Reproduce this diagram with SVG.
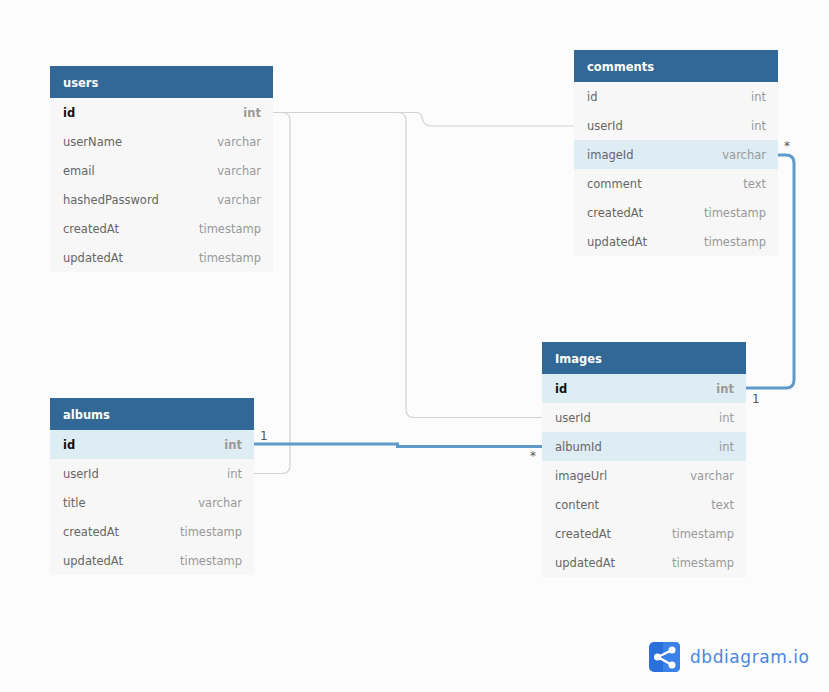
<svg xmlns="http://www.w3.org/2000/svg" width="829" height="692" viewBox="0 0 829 692">
<style>
.bg{fill:#fcfcfc}
.hd{fill:#316896}
.body{fill:#f7f7f7}
.sel{fill:#deecf4}
text{font-family:"DejaVu Sans",Verdana,sans-serif;font-size:11.5px}
.t{fill:#fff;font-weight:700}
.f{fill:#666}
.y{fill:#999;text-anchor:end}
.pk{fill:#111;font-weight:700}
.py{fill:#999;font-weight:700;text-anchor:end}
.thin{fill:none;stroke:#d2d2d2;stroke-width:1.2}
.thick{fill:none;stroke:#6099cb;stroke-width:3}
.card{fill:#555;font-size:12px}
</style>
<rect class="bg" width="829" height="692"/>
<g id="connectors">
<path class="thin" d="M273 112.500H282Q290 112.500 290 120.500V465Q290 473.500 282 473.500H254"/>
<path class="thin" d="M273 112.500H398Q406 112.500 406 120.500V409Q406 417.500 414 417.500H542"/>
<path class="thin" d="M273 112.500H416Q421 112.500 422 117Q423 126 431 126H574"/>
<path class="thick" d="M254 444H397.500V446.500H542"/>
<path class="thick" d="M746 388H786Q794 388 794 380V163Q794 155 786 155H778"/>
<text class="card" x="260" y="440">1</text>
<text class="card" x="530" y="460">*</text>
<text class="card" x="784" y="150">*</text>
<text class="card" x="752" y="403">1</text>
</g>
<g id="users">
<rect class="body" x="50" y="98" width="223" height="174"/>
<rect class="hd" x="50" y="66" width="223" height="32"/>
<text class="t" x="63" y="87">users</text>
<text class="pk" x="63" y="117">id</text><text class="py" x="261" y="117">int</text>
<text class="f" x="63" y="146">userName</text><text class="y" x="261" y="146">varchar</text>
<text class="f" x="63" y="175">email</text><text class="y" x="261" y="175">varchar</text>
<text class="f" x="63" y="204">hashedPassword</text><text class="y" x="261" y="204">varchar</text>
<text class="f" x="63" y="233">createdAt</text><text class="y" x="261" y="233">timestamp</text>
<text class="f" x="63" y="262">updatedAt</text><text class="y" x="261" y="262">timestamp</text>
</g>
<g id="comments">
<rect class="body" x="574" y="82" width="204" height="174"/>
<rect class="hd" x="574" y="50" width="204" height="32"/>
<rect class="sel" x="574" y="140" width="204" height="29"/>
<text class="t" x="587" y="71">comments</text>
<text class="f" x="587" y="101">id</text><text class="y" x="766" y="101">int</text>
<text class="f" x="587" y="130">userId</text><text class="y" x="766" y="130">int</text>
<text class="f" x="587" y="159">imageId</text><text class="y" x="766" y="159">varchar</text>
<text class="f" x="587" y="188">comment</text><text class="y" x="766" y="188">text</text>
<text class="f" x="587" y="217">createdAt</text><text class="y" x="766" y="217">timestamp</text>
<text class="f" x="587" y="246">updatedAt</text><text class="y" x="766" y="246">timestamp</text>
</g>
<g id="albums">
<rect class="body" x="50" y="430" width="204" height="145"/>
<rect class="hd" x="50" y="398" width="204" height="32"/>
<rect class="sel" x="50" y="430" width="204" height="29"/>
<text class="t" x="63" y="419">albums</text>
<text class="pk" x="63" y="449">id</text><text class="py" x="242" y="449">int</text>
<text class="f" x="63" y="478">userId</text><text class="y" x="242" y="478">int</text>
<text class="f" x="63" y="507">title</text><text class="y" x="242" y="507">varchar</text>
<text class="f" x="63" y="536">createdAt</text><text class="y" x="242" y="536">timestamp</text>
<text class="f" x="63" y="565">updatedAt</text><text class="y" x="242" y="565">timestamp</text>
</g>
<g id="Images">
<rect class="body" x="542" y="374" width="204" height="203"/>
<rect class="hd" x="542" y="342" width="204" height="32"/>
<rect class="sel" x="542" y="374" width="204" height="29"/>
<rect class="sel" x="542" y="432" width="204" height="29"/>
<text class="t" x="555" y="363">Images</text>
<text class="pk" x="555" y="393">id</text><text class="py" x="734" y="393">int</text>
<text class="f" x="555" y="422">userId</text><text class="y" x="734" y="422">int</text>
<text class="f" x="555" y="451">albumId</text><text class="y" x="734" y="451">int</text>
<text class="f" x="555" y="480">imageUrl</text><text class="y" x="734" y="480">varchar</text>
<text class="f" x="555" y="509">content</text><text class="y" x="734" y="509">text</text>
<text class="f" x="555" y="538">createdAt</text><text class="y" x="734" y="538">timestamp</text>
<text class="f" x="555" y="567">updatedAt</text><text class="y" x="734" y="567">timestamp</text>
</g>
<g id="logo">
<rect x="649" y="642" width="31" height="30" rx="5" fill="#2a6fdc"/>
<path d="M663 642H675Q680 642 680 647V667Q680 672 675 672H663Z" fill="#3b82e8"/>
<path d="M672 650L658 657L672 665" fill="none" stroke="#fff" stroke-width="2.500"/>
<circle cx="672" cy="650" r="3.500" fill="#fff"/><circle cx="657.500" cy="657" r="3.500" fill="#fff"/><circle cx="672" cy="665" r="3.500" fill="#fff"/>
<text x="690" y="663" textLength="119" style="font-family:'DejaVu Sans',sans-serif;font-size:17px;fill:#4a86de">dbdiagram.io</text>
</g>
</svg>
